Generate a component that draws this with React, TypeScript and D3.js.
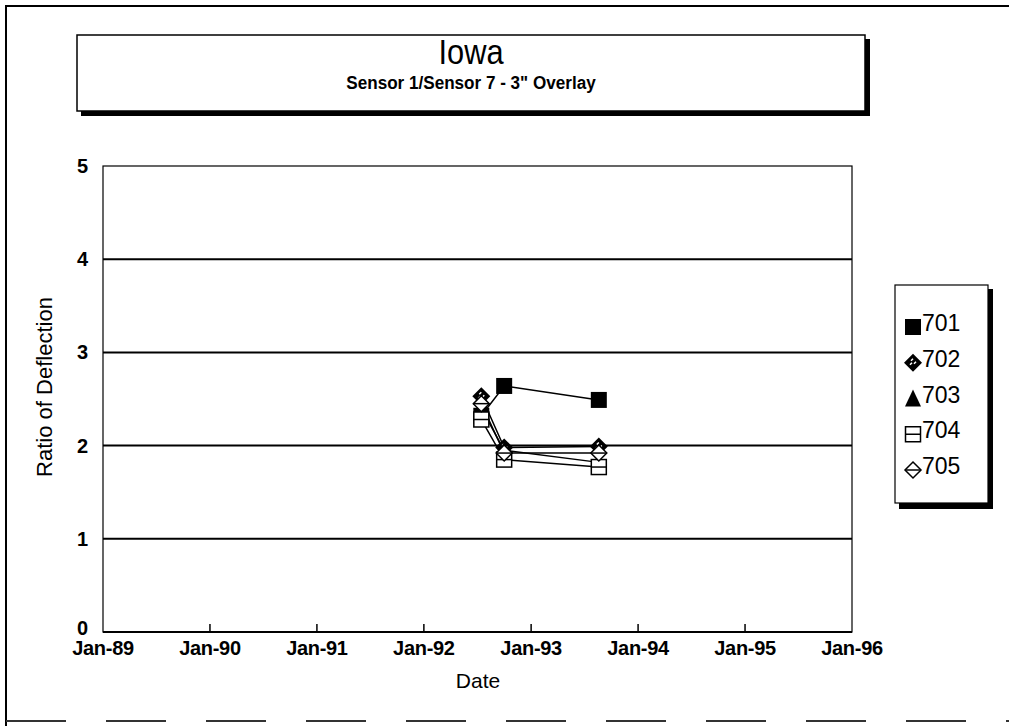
import { useEffect, useRef } from "react";
import * as d3 from "d3";

// values
const SERIES = ["701", "702", "703", "704", "705"];
const DATES = [new Date(1992, 6, 15), new Date(1992, 9, 1), new Date(1993, 7, 20)];
const V701 = [2.32, 2.64, 2.49];
const V702 = [2.53, 1.98, 1.99];
const V703 = [2.4, 1.95, 1.82];
const V704 = [2.28, 1.85, 1.77];
const V705 = [2.45, 1.92, 1.92];
const Y_TICKS = [0, 1, 2, 3, 4, 5];
const X_TICKS = d3.range(1989, 1997).map((y) => new Date(y, 0, 1));

const W = 1009;
const H = 728;
const FONT = "'Liberation Sans', Arial, sans-serif";

type Sel = d3.Selection<SVGGElement, unknown, null, undefined>;

// draws one marker centred on 0,0 inside g
function marker(g: Sel, name: string) {
  const s = 8;
  if (name === "701") {
    g.append("rect").attr("x", -s).attr("y", -s).attr("width", 2 * s).attr("height", 2 * s).attr("fill", "#000");
  } else if (name === "702") {
    g.append("path").attr("d", `M0,${-s - 1}L${s + 1},0L0,${s + 1}L${-s - 1},0Z`).attr("fill", "#000");
    g.append("path").attr("d", "M-2,-2L0,-4M1,1L3,-1M-3,2L-1,0").attr("stroke", "#fff").attr("stroke-width", 1.5);
  } else if (name === "703") {
    g.append("path").attr("d", `M0,${-s - 1}L${s},${s}L${-s},${s}Z`).attr("fill", "#000");
  } else if (name === "704") {
    g.append("rect").attr("x", -s + 0.5).attr("y", -s + 0.5).attr("width", 2 * s - 1).attr("height", 2 * s - 1)
      .attr("fill", "#fff").attr("stroke", "#000").attr("stroke-width", 1.5);
    g.append("line").attr("x1", -s).attr("x2", s).attr("stroke", "#000").attr("stroke-width", 1.5);
  } else {
    g.append("path").attr("d", `M0,${-s}L${s},0L0,${s}L${-s},0Z`)
      .attr("fill", "#fff").attr("stroke", "#000").attr("stroke-width", 1.5);
    g.append("line").attr("x1", -s).attr("x2", s).attr("stroke", "#000").attr("stroke-width", 1.5);
  }
}

export default function App() {
  const ref = useRef<SVGSVGElement | null>(null);

  useEffect(() => {
    const svg = d3.select(ref.current);
    svg.selectAll("*").remove();

    const values: Record<string, number[]> = { "701": V701, "702": V702, "703": V703, "704": V704, "705": V705 };
    const plot = { left: 103, right: 852, top: 166, bottom: 632 };

    const x = d3.scaleTime().domain([X_TICKS[0], X_TICKS[X_TICKS.length - 1]]).range([plot.left, plot.right]);
    const y = d3.scaleLinear().domain([0, 5]).range([plot.bottom, plot.top]);

    // outer frame
    svg.append("path").attr("d", `M6,726L6,6L${W},6`).attr("fill", "none").attr("stroke", "#000").attr("stroke-width", 2);
    svg.append("line").attr("x1", 6).attr("x2", W).attr("y1", 721).attr("y2", 721)
      .attr("stroke", "#333").attr("stroke-width", 2).attr("stroke-dasharray", "60,40");

    // title box with shadow
    svg.append("rect").attr("x", 81).attr("y", 39).attr("width", 789).attr("height", 77).attr("fill", "#000");
    svg.append("rect").attr("x", 77).attr("y", 35).attr("width", 788).attr("height", 76)
      .attr("fill", "#fff").attr("stroke", "#000").attr("stroke-width", 1.5);
    svg.append("text").attr("x", 471).attr("y", 64).attr("text-anchor", "middle")
      .attr("font-family", FONT).attr("font-size", 35).attr("transform", "translate(471,0) scale(0.88,1) translate(-471,0)")
      .text("Iowa");
    svg.append("text").attr("x", 471).attr("y", 89).attr("text-anchor", "middle")
      .attr("font-family", FONT).attr("font-weight", "bold").attr("font-size", 19)
      .attr("transform", "translate(471,0) scale(0.9,1) translate(-471,0)")
      .text("Sensor 1/Sensor 7 - 3\" Overlay");

    // plot frame and gridlines
    svg.append("rect").attr("x", plot.left).attr("y", plot.top)
      .attr("width", plot.right - plot.left).attr("height", plot.bottom - plot.top)
      .attr("fill", "none").attr("stroke", "#000").attr("stroke-width", 1.2);
    svg.append("g").selectAll("line").data(Y_TICKS.filter((t) => t > 0 && t < 5)).join("line")
      .attr("x1", plot.left).attr("x2", plot.right)
      .attr("y1", (d) => y(d)).attr("y2", (d) => y(d))
      .attr("stroke", "#000").attr("stroke-width", 2);

    // y axis labels
    svg.append("g").selectAll("text").data(Y_TICKS).join("text")
      .attr("x", 88).attr("y", (d) => y(d) + (d === 0 ? 3 : 7)).attr("text-anchor", "end")
      .attr("font-family", FONT).attr("font-weight", "bold").attr("font-size", 20)
      .text((d) => d);

    // x axis
    svg.append("line").attr("x1", plot.left).attr("x2", plot.right).attr("y1", plot.bottom).attr("y2", plot.bottom)
      .attr("stroke", "#000").attr("stroke-width", 2);
    svg.append("g").selectAll("line").data(X_TICKS.slice(1, -1)).join("line")
      .attr("x1", (d) => x(d)).attr("x2", (d) => x(d))
      .attr("y1", plot.bottom).attr("y2", plot.bottom - 8)
      .attr("stroke", "#000").attr("stroke-width", 1.5);
    svg.append("g").selectAll("text").data(X_TICKS).join("text")
      .attr("x", (d) => x(d)).attr("y", plot.bottom + 23).attr("text-anchor", "middle")
      .attr("font-family", FONT).attr("font-weight", "bold").attr("font-size", 20).attr("letter-spacing", -0.3)
      .text((d) => d3.timeFormat("%b-%y")(d));

    // axis titles
    svg.append("text").attr("x", 478).attr("y", 688).attr("text-anchor", "middle")
      .attr("font-family", FONT).attr("font-size", 21).text("Date");
    svg.append("text").attr("transform", `translate(52,387) rotate(-90)`)
      .attr("text-anchor", "middle").attr("font-family", FONT).attr("font-size", 22)
      .text("Ratio of Deflection");

    // series lines then markers
    const line = d3.line<number>().x((_, i) => x(DATES[i])).y((d) => y(d));
    for (const name of SERIES) {
      svg.append("path").attr("d", line(values[name])).attr("fill", "none")
        .attr("stroke", "#000").attr("stroke-width", 1.5);
    }
    for (const name of SERIES) {
      values[name].forEach((v, i) => {
        const g = svg.append("g").attr("transform", `translate(${x(DATES[i])},${y(v)})`) as unknown as Sel;
        marker(g, name);
      });
    }

    // legend
    svg.append("rect").attr("x", 899).attr("y", 289).attr("width", 94).attr("height", 220).attr("fill", "#000");
    svg.append("rect").attr("x", 895).attr("y", 285).attr("width", 93).attr("height", 218)
      .attr("fill", "#fff").attr("stroke", "#000").attr("stroke-width", 1.2);
    const rowY = d3.scalePoint<string>().domain(SERIES).range([323, 466]);
    SERIES.forEach((name) => {
      const ry = rowY(name) ?? 0;
      const g = svg.append("g").attr("transform", `translate(913,${ry + 4})`) as unknown as Sel;
      marker(g, name);
      svg.append("text").attr("x", 922).attr("y", ry + 8).attr("font-family", FONT).attr("font-size", 23).text(name);
    });
  }, []);

  return <svg ref={ref} width={W} height={H} style={{ position: "absolute", left: 0, top: 0, background: "#fff" }} />;
}
